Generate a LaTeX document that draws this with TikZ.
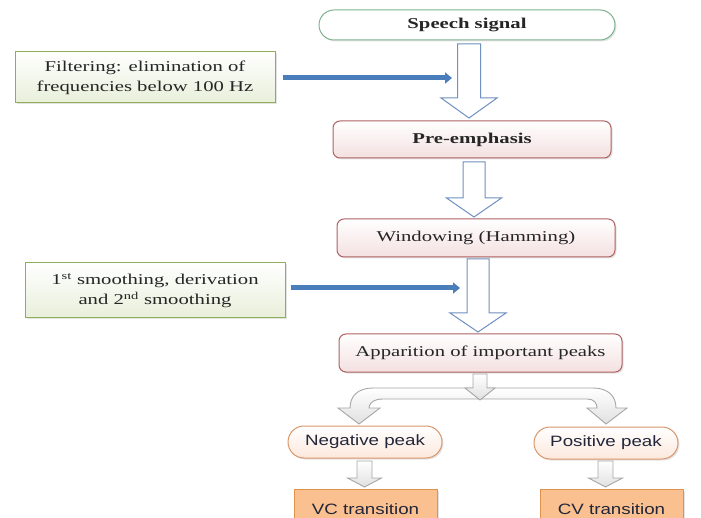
\documentclass[tikz,border=0pt]{standalone}
\usepackage{fontspec}
\newfontfamily\tms[FakeStretch=1.38]{Liberation Serif}
\newfontfamily\ars[FakeStretch=1.25]{Liberation Sans}
\usetikzlibrary{arrows.meta,calc,shadows}
\definecolor{txt}{HTML}{262626}
\definecolor{sanstxt}{HTML}{22263A}
\definecolor{greenbd}{HTML}{7DB38E}
\definecolor{olivebd}{HTML}{8FAE5A}
\definecolor{olivefill}{HTML}{E8EFDA}
\definecolor{redbd}{HTML}{AE6262}
\definecolor{redfill}{HTML}{F4E0E0}
\definecolor{orbd}{HTML}{D9966A}
\definecolor{orfill}{HTML}{FCE8DC}
\definecolor{vcfill}{HTML}{FAC08F}
\definecolor{vcbd}{HTML}{E0924F}
\definecolor{hollowbd}{HTML}{7090C0}
\definecolor{bluearr}{HTML}{4A7EBB}
\definecolor{graybd}{HTML}{A6A6A6}
\newcommand\hollowarr[6]{\path[#6] let \p1=(#1),\p2=(#2) in
  (\x1-#3pt,\y1) -- (\x1+#3pt,\y1) -- (\x1+#3pt,\y2+#5pt) -- (\x1+#4pt,\y2+#5pt)
  -- (\x1,\y2) -- (\x1-#4pt,\y2+#5pt) -- (\x1-#3pt,\y2+#5pt) -- cycle;}
\tikzset{
  shadowed/.style={drop shadow={opacity=0.22,shadow xshift=1.5pt,shadow yshift=-1.5pt}},
  serifbox/.style={font=\tms\fontsize{15}{20}\selectfont, text=txt, align=center, inner sep=0pt},
  sansbox/.style={font=\ars\fontsize{15}{18}\selectfont, text=sanstxt, align=center, inner sep=0pt},
  speechbox/.style={serifbox, draw=greenbd, line width=1pt, fill=white, rounded corners=15pt, shadowed},
  sidebox/.style={serifbox, draw=olivebd, line width=1pt, top color=white, bottom color=olivefill, shadowed},
  stagebox/.style={serifbox, draw=redbd, line width=1pt, top color=white, bottom color=redfill, rounded corners=7pt, shadowed},
  peakbox/.style={sansbox, draw=orbd, line width=1pt, top color=white, bottom color=orfill, rounded corners=16pt, shadowed},
  transbox/.style={sansbox, draw=vcbd, line width=1pt, fill=vcfill, shadowed},
  hollow/.style={draw=hollowbd, line width=1pt, fill=white, line join=miter},
  grayarr/.style={draw=graybd, line width=0.9pt, top color=white, bottom color=black!12},
  bluelink/.style={draw=bluearr, line width=5pt, -{Triangle[length=7pt,width=11pt]}}
}
\begin{document}
\begin{tikzpicture}[x=1pt,y=-1pt]
\useasboundingbox (0,0) rectangle (701,518);
% nodes
\node[speechbox, minimum width=296pt, minimum height=30pt] (speech) at (467,25) {\bfseries Speech signal};
\node[sidebox, minimum width=260pt, minimum height=51pt] (filter) at (145,77.5) {Filtering: elimination of\\frequencies below 100 Hz};
\node[stagebox, minimum width=278pt, minimum height=37pt] (pre) at (472,139.5) {\bfseries Pre-emphasis};
\node[stagebox, minimum width=278pt, minimum height=38pt] (win) at (476,238) {Windowing (Hamming)};
\node[sidebox, minimum width=260pt, minimum height=55pt] (smooth) at (155,290.5) {1\textsuperscript{st} smoothing, derivation\\and 2\textsuperscript{nd} smoothing};
\node[stagebox, minimum width=283pt, minimum height=38pt] (appar) at (480.5,353) {Apparition of important peaks};
\node[peakbox, minimum width=154pt, minimum height=32pt] (neg) at (365,442) {Negative peak};
\node[peakbox, minimum width=144pt, minimum height=32pt] (pos) at (606,443) {Positive peak};
\node[transbox, minimum width=143pt, minimum height=42pt, anchor=north] (vc) at (365.5,489) {};
\node[sansbox, anchor=base] at (365.5,514) {VC transition};
\node[transbox, minimum width=143pt, minimum height=42pt, anchor=north] (cv) at (611.5,489) {};
\node[sansbox, anchor=base] at (611.5,514) {CV transition};
% hollow arrows
\coordinate (h1s) at (469,44);  \coordinate (h1e) at (469,118);
\coordinate (h2s) at (474,162); \coordinate (h2e) at (474,217);
\coordinate (h3s) at (478,259); \coordinate (h3e) at (478,332);
\hollowarr{h1s}{h1e}{11.5}{28}{20}{hollow}
\hollowarr{h2s}{h2e}{11}{27.5}{19}{hollow}
\hollowarr{h3s}{h3e}{11}{28}{19}{hollow}
% blue side arrows
\coordinate (b1e) at (452,78);
\coordinate (b2e) at (460,288);
\draw[bluelink] ([xshift=7pt]filter.east |- b1e) -- (b1e);
\draw[bluelink] ([xshift=5pt]smooth.east |- b2e) -- (b2e);
% split arrow
\path[grayarr] (359,424) -- (380,408) -- (369,408) .. controls (369,403) and (374,399) .. (383,399)
  -- (587,399) .. controls (594,399) and (597,403) .. (597,408) -- (587,408) -- (606,424)
  -- (627,408) -- (616,408) .. controls (616,396) and (608,388) .. (593,388)
  -- (373,388) .. controls (358,388) and (350,396) .. (350,408) -- (338,408) -- cycle;
\path[grayarr] (473,374) -- (487,374) -- (487,388) -- (495,388) -- (480,400) -- (465,388) -- (473,388) -- cycle;
% small arrows
\coordinate (s1s) at (364.5,461); \coordinate (s1e) at (364.5,487);
\coordinate (s2s) at (605.5,461); \coordinate (s2e) at (605.5,487);
\hollowarr{s1s}{s1e}{7.5}{17}{9}{grayarr}
\hollowarr{s2s}{s2e}{7.5}{17}{9}{grayarr}
\end{tikzpicture}
\end{document}
